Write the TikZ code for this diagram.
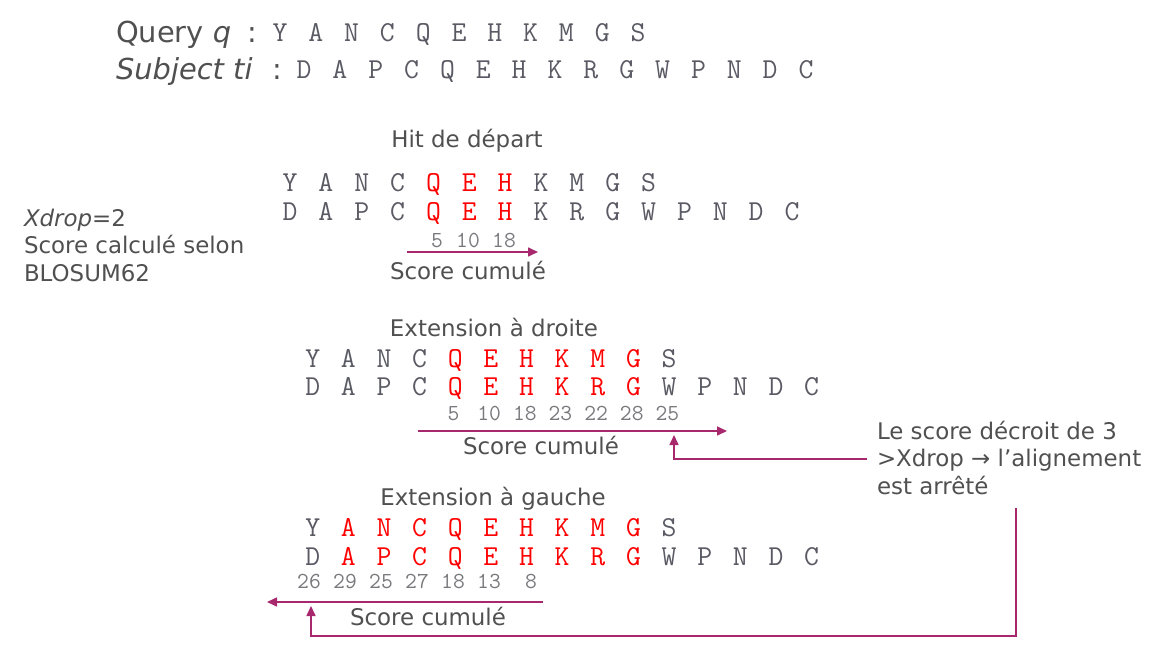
\documentclass[tikz,border=0pt]{standalone}
\usepackage{fontspec}
\setmainfont{DejaVu Sans}
\usetikzlibrary{arrows.meta}
\definecolor{txt}{RGB}{80, 80, 80}
\definecolor{seq}{RGB}{90, 90, 100}
\definecolor{num}{RGB}{120, 120, 125}
\definecolor{hit}{RGB}{255, 0, 0}
\definecolor{link}{RGB}{168, 40, 110}
\newcommand{\hl}[1]{\textcolor{hit}{#1}}

\begin{document}
\begin{tikzpicture}[x=1bp, y=-1bp, thick,
  every node/.style={inner sep=0pt, outer sep=0pt},
  caption/.style={font=\fontsize{23}{27.5}\selectfont, text=txt},
  head/.style={font=\fontsize{29}{34}\selectfont, text=txt},
  residue/.style={font=\ttfamily\fontsize{29}{34}\selectfont, text=seq, anchor=base},
  score/.style={font=\ttfamily\fontsize{23}{27}\selectfont, text=num, anchor=base},
  flow/.style={link, line width=1.6pt, -{Triangle[length=10bp, width=9bp]}}]
  \useasboundingbox (0, 0) rectangle (1160, 665);

  % query and subject
  \node[head, anchor=base west] (qname) at (116, 43) {Query \textit{q}};
  \node[head, anchor=base] (qcolon) at (252, 43) {:};
  \foreach \r [count=\i] in {Y,A,N,C,Q,E,H,K,M,G,S}
    \node[residue] (q\i) at ({280 + (\i - 1) * 35.8}, 42) {\r};
  \node[head, anchor=base west] (tname) at (116, 80) {\textit{Subject ti}};
  \node[head, anchor=base] (tcolon) at (277, 80) {:};
  \foreach \r [count=\i] in {D,A,P,C,Q,E,H,K,R,G,W,P,N,D,C}
    \node[residue] (t\i) at ({304 + (\i - 1) * 35.86}, 79) {\r};

  % parameters
  \node[caption, anchor=base west, align=left] (params) at (24, 281)
    {\textit{Xdrop}=2\\Score calculé selon\\BLOSUM62};

  % hit de depart
  \node[caption, anchor=base] (hittitle) at (467, 148) {Hit de départ};
  \foreach \r [count=\i] in {Y,A,N,C,\hl{Q},\hl{E},\hl{H},K,M,G,S}
    \node[residue] (hitq\i) at ({290 + (\i - 1) * 35.86}, 191.5) {\r};
  \foreach \r [count=\i] in {D,A,P,C,\hl{Q},\hl{E},\hl{H},K,R,G,W,P,N,D,C}
    \node[residue] (hitt\i) at ({290 + (\i - 1) * 35.86}, 220.5) {\r};
  \foreach \s/\x in {5/437, 10/468, 18/504}
    \node[score] (hits\s) at (\x, 247) {\s};
  \coordinate (hitfrom) at (407, 252);
  \coordinate (hitto) at (538, 252);
  \draw[flow] (hitfrom) -- (hitto);
  \node[caption, anchor=base] (hitcum) at (468, 279) {Score cumulé};

  % extension a droite
  \node[caption, anchor=base] (righttitle) at (494, 336) {Extension à droite};
  \foreach \r [count=\i] in {Y,A,N,C,\hl{Q},\hl{E},\hl{H},\hl{K},\hl{M},\hl{G},S}
    \node[residue] (rightq\i) at ({312.7 + (\i - 1) * 35.64}, 367) {\r};
  \foreach \r [count=\i] in {D,A,P,C,\hl{Q},\hl{E},\hl{H},\hl{K},\hl{R},\hl{G},W,P,N,D,C}
    \node[residue] (rightt\i) at ({312.7 + (\i - 1) * 35.64}, 395.5) {\r};
  \foreach \s [count=\i from 5] in {5,10,18,23,22,28,25}
    \node[score] (rights\i) at ({311 + (\i - 1) * 35.64}, 420) {\s};
  \coordinate (rightfrom) at (418, 431);
  \coordinate (rightto) at (727, 431);
  \draw[flow] (rightfrom) -- (rightto);
  \node[caption, anchor=base] (rightcum) at (541, 454) {Score cumulé};

  % extension a gauche
  \node[caption, anchor=base] (lefttitle) at (493, 505) {Extension à gauche};
  \foreach \r [count=\i] in {Y,\hl{A},\hl{N},\hl{C},\hl{Q},\hl{E},\hl{H},\hl{K},\hl{M},\hl{G},S}
    \node[residue] (leftq\i) at ({312.7 + (\i - 1) * 35.64}, 536.5) {\r};
  \foreach \r [count=\i] in {D,\hl{A},\hl{P},\hl{C},\hl{Q},\hl{E},\hl{H},\hl{K},\hl{R},\hl{G},W,P,N,D,C}
    \node[residue] (leftt\i) at ({312.7 + (\i - 1) * 35.64}, 565) {\r};
  \foreach \s [count=\i] in {26,29,25,27,18,13}
    \node[score] (lefts\i) at ({309 + (\i - 1) * 36}, 588) {\s};
  \node[score] (lefts7) at (531, 588) {8};
  \coordinate (leftfrom) at (543, 602);
  \coordinate (leftto) at (267, 602);
  \draw[flow] (leftfrom) -- (leftto);
  \node[caption, anchor=base] (leftcum) at (428, 625) {Score cumulé};

  % arret
  \node[caption, anchor=base west, align=left] (stop) at (877, 494)
    {Le score décroit de 3\\>Xdrop → l’alignement\\est arrêté};
  \coordinate (stopin) at (867, 459);
  \coordinate (stopat) at (674, 435);
  \draw[flow] (stopin) -| (stopat);
  \coordinate (stopout) at (1016, 508);
  \coordinate (startat) at (311, 606);
  \draw[flow] (stopout) |- (1016, 636) -| (startat);
\end{tikzpicture}
\end{document}
